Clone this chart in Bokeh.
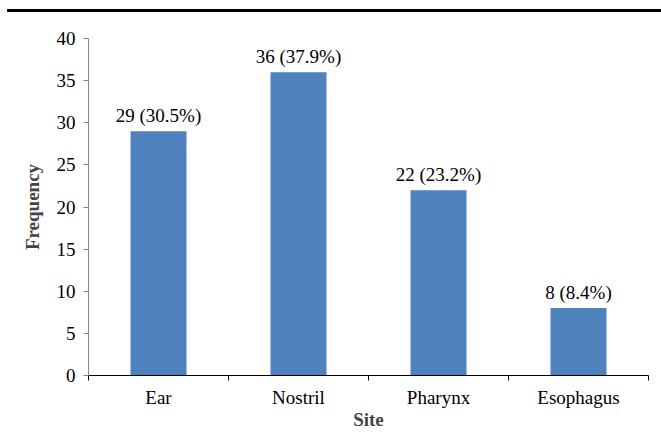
from bokeh.plotting import figure
from bokeh.models import (ColumnDataSource, LabelSet, Range1d, LinearAxis,
                          FixedTicker, Div)
from bokeh.layouts import column
from bokeh.embed import file_html
from bokeh.resources import INLINE

sites = ["Ear", "Nostril", "Pharynx", "Esophagus"]
counts = [29, 36, 22, 8]
percents = [30.5, 37.9, 23.2, 8.4]
y_ticks = [0, 5, 10, 15, 20, 25, 30, 35, 40]

centers = [i + 0.5 for i in range(len(sites))]
boundaries = list(range(len(sites) + 1))
bar_labels = [f"{c} ({p}%)" for c, p in zip(counts, percents)]
src = ColumnDataSource(dict(x=centers, count=counts, label=bar_labels))

FONT = "Liberation Serif"
FS = "19px"

p = figure(x_range=Range1d(0, len(sites)), y_range=Range1d(0, 40),
           width=661, height=418, output_backend="svg", toolbar_location=None,
           x_axis_location=None, y_axis_location=None, margin=0,
           min_border_left=88, min_border_right=13, min_border_top=24, min_border_bottom=40)
p.outline_line_color = None
p.xgrid.grid_line_color = None
p.ygrid.grid_line_color = None
p.background_fill_color = "white"
p.border_fill_color = "white"

p.vbar(x="x", top="count", width=0.4, source=src, fill_color="#4F81BD", line_color=None)

p.add_layout(LabelSet(x="x", y="count", text="label", source=src, text_align="center",
                      text_baseline="bottom", y_offset=5, text_font=FONT,
                      text_font_size=FS, text_color="black"))

# y axis
yax = LinearAxis(ticker=FixedTicker(ticks=y_ticks), axis_label="Frequency")
yax.axis_line_color = "#868686"
yax.major_tick_line_color = "#868686"
yax.major_tick_out = 5
yax.major_tick_in = 0
yax.minor_tick_line_color = None
yax.major_label_text_font = FONT
yax.major_label_text_font_size = FS
yax.major_label_text_color = "black"
yax.major_label_standoff = 8
yax.axis_label_text_font = FONT
yax.axis_label_text_font_size = FS
yax.axis_label_text_font_style = "bold"
yax.axis_label_standoff = 11
p.add_layout(yax, "left")

# x axis: tick marks at category boundaries
xb = LinearAxis(ticker=FixedTicker(ticks=boundaries),
                major_label_overrides={b: "" for b in boundaries})
xb.axis_line_color = "black"
xb.major_tick_line_color = "black"
xb.major_tick_out = 5
xb.major_tick_in = 0
xb.minor_tick_line_color = None
xb.major_label_text_font_size = "1px"
xb.major_label_standoff = -4
p.add_layout(xb, "below")

# x axis: category names at centers
xc = LinearAxis(ticker=FixedTicker(ticks=centers), axis_label="Site",
                major_label_overrides={c: s for c, s in zip(centers, sites)})
xc.axis_line_color = None
xc.major_tick_line_color = None
xc.minor_tick_line_color = None
xc.major_tick_out = 0
xc.major_label_text_font = FONT
xc.major_label_text_font_size = FS
xc.major_label_text_color = "black"
xc.major_label_standoff = 6
xc.axis_label_text_font = FONT
xc.axis_label_text_font_size = FS
xc.axis_label_text_font_style = "bold"
xc.axis_label_standoff = -2
p.add_layout(xc, "below")

# top rule
rule = Div(text='<div style="margin:9px 0 0 7px;width:654px;height:3px;background:#000;"></div>',
           width=661, height=14, margin=0)

open("out.html", "w").write(file_html(column(rule, p, spacing=0, margin=0), INLINE))
